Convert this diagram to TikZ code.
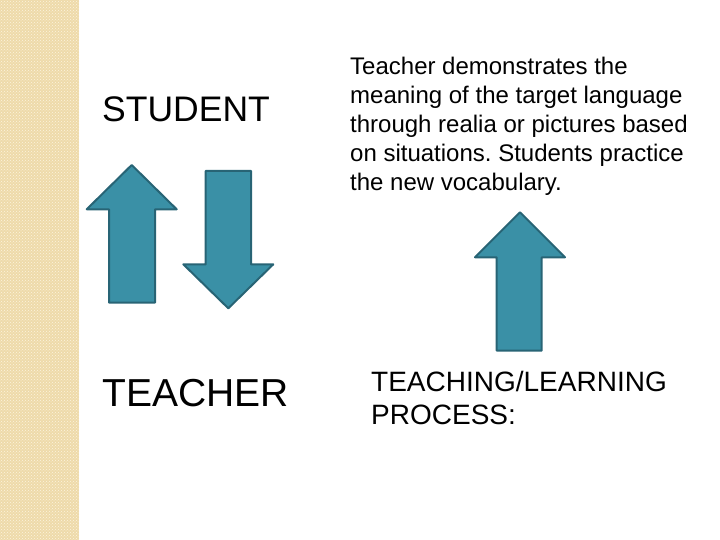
\documentclass[tikz,border=0pt]{standalone}
\usepackage{fontspec}
\setmainfont{Liberation Sans}
\usetikzlibrary{patterns}
\definecolor{stripbase}{RGB}{238,218,170}
\definecolor{stripdot}{RGB}{252,244,222}
\definecolor{arrowfill}{RGB}{58,144,166}
\definecolor{arrowline}{RGB}{40,100,117}
\tikzset{
  blockarrow/.style={fill=arrowfill, draw=arrowline, line width=2pt, line join=round},
  label/.style={inner sep=0pt, anchor=base west}
}
\frenchspacing

\begin{document}
\begin{tikzpicture}[x=1pt, y=-1pt]
\useasboundingbox (0,0) rectangle (720,540);
% Draw side strip
\fill[stripbase] (0,0) rectangle (79,540);
\fill[pattern=crosshatch dots, pattern color=stripdot] (0,0) rectangle (79,540);
% Draw arrows
\draw[blockarrow] (131.7,165) -- (176.7,209.3) -- (155,209.3) -- (155,302.7)
  -- (109,302.7) -- (109,209.3) -- (86.7,209.3) -- cycle;
\draw[blockarrow] (228.3,308.3) -- (273.3,264.3) -- (251,264.3) -- (251,171)
  -- (205.7,171) -- (205.7,264.3) -- (183.3,264.3) -- cycle;
\draw[blockarrow] (520,212.3) -- (565,257.3) -- (541.7,257.3) -- (541.7,350.7)
  -- (496.7,350.7) -- (496.7,257.3) -- (475,257.3) -- cycle;
% Draw labels
\node[label, font=\fontsize{35.5}{42}\selectfont] (student) at (102,122) {STUDENT};
\node[label, font=\fontsize{39}{46}\selectfont] (teacher) at (102,406) {TEACHER};
\node[inner sep=0pt, anchor=north west, align=left,
  font=\fontsize{24}{29}\selectfont] (method) at (350,57)
  {Teacher demonstrates the\\ meaning of the target language\\
   through realia or pictures based\\ on situations. Students practice\\
   the new vocabulary.};
\node[inner sep=0pt, anchor=north west, align=left,
  font=\fontsize{28}{33}\selectfont] (process) at (371,371)
  {TEACHING/LEARNING\\ PROCESS:};
\end{tikzpicture}
\end{document}
